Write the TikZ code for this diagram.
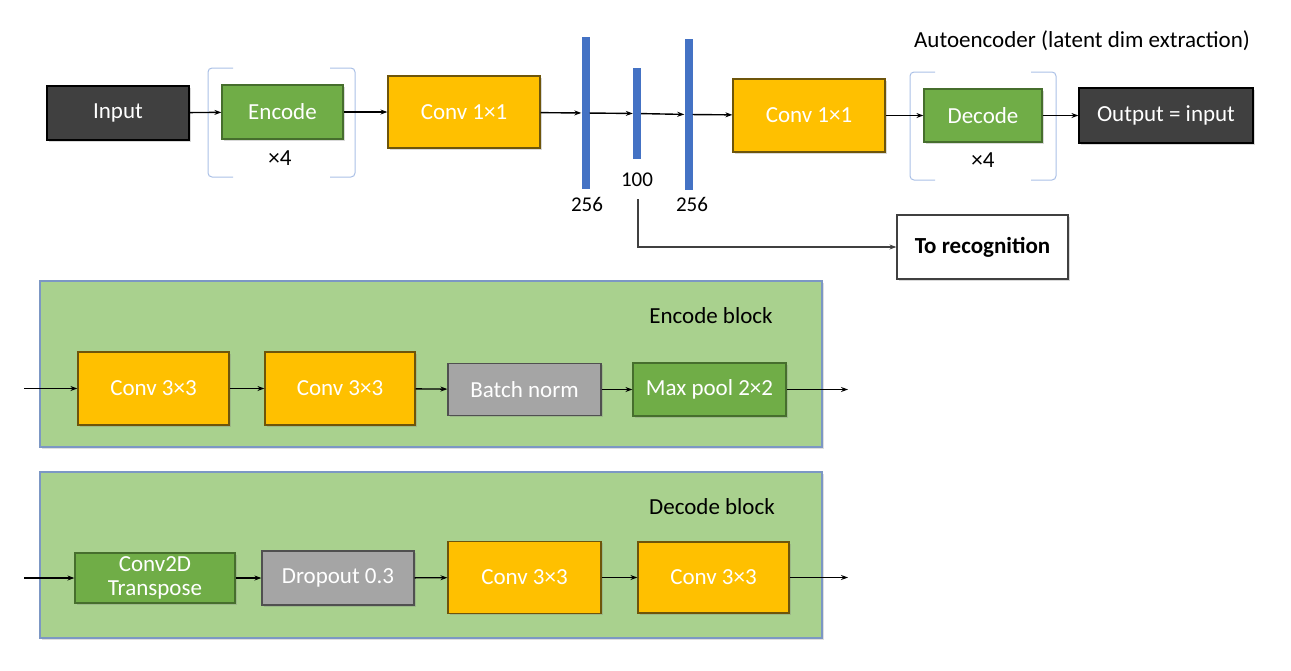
\documentclass[tikz,border=0pt]{standalone}
\usepackage{fontspec}
\setmainfont{Carlito}
\usetikzlibrary{positioning,arrows.meta,shadows}

\definecolor{darkfill}{RGB}{64,64,64}
\definecolor{greenfill}{RGB}{112,173,71}
\definecolor{greenline}{RGB}{70,110,45}
\definecolor{orangefill}{RGB}{255,192,0}
\definecolor{orangeline}{RGB}{110,85,10}
\definecolor{grayfill}{RGB}{165,165,165}
\definecolor{grayline}{RGB}{80,80,80}
\definecolor{barblue}{RGB}{68,114,196}
\definecolor{panelfill}{RGB}{169,209,142}
\definecolor{panelline}{RGB}{124,151,196}
\definecolor{bracketblue}{RGB}{170,192,230}

\begin{document}
\begin{tikzpicture}[x=1pt, y=-1pt,
                font=\fontsize{23}{26}\selectfont,
                box/.style={rectangle, inner sep=0pt, text=white, line width=1.2pt,
                    drop shadow={shadow xshift=1.5pt, shadow yshift=-1.5pt, opacity=0.3}},
                darkbox/.style={box, fill=darkfill, draw=black},
                greenbox/.style={box, fill=greenfill, draw=greenline},
                orangebox/.style={box, fill=orangefill, draw=orangeline},
                graybox/.style={box, fill=grayfill, draw=grayline},
                bar/.style={rectangle, inner sep=0pt, fill=barblue, minimum width=8pt},
                panel/.style={rectangle, fill=panelfill, draw=panelline, line width=1.5pt,
                    minimum width=782pt, minimum height=166pt,
                    drop shadow={shadow xshift=1.5pt, shadow yshift=-1.5pt, opacity=0.25}},
                bracket/.style={draw=bracketblue, line width=1pt, rounded corners=4pt},
                dim/.style={font=\fontsize{21}{24}\selectfont},
                arr/.style={-{Stealth[length=7pt, width=5pt]}, line width=1.4pt}]
                \useasboundingbox (0,0) rectangle (1291,670);

                \node[panel] (encpanel) at (431,364) {};
                \node[panel] (decpanel) at (431,555) {};
                \node (enctitle) at (711,316) {Encode block};
                \node (dectitle) at (712,507) {Decode block};

                \draw[bracket] (233,68) -- (208,68) -- (208,177) -- (233,177);
                \draw[bracket] (330,68) -- (355,68) -- (355,177) -- (330,177);
                \draw[bracket] (935,72) -- (910,72) -- (910,180) -- (935,180);
                \draw[bracket] (1031,72) -- (1056,72) -- (1056,180) -- (1031,180);

                \node[darkbox, minimum width=142pt, minimum height=54pt] (input) at (118,113) {Input};
                \node[greenbox, minimum width=121pt, minimum height=54pt] (encode) at (282.5,112) {Encode};
                \node (repenc) at (280,158) {×4};
                \node[orangebox, minimum width=152pt, minimum height=72pt] (convin) at (464,112) {Conv 1×1};
                \node[bar, minimum height=152pt] (bara) at (585.5,113) {};
                \node[bar, minimum height=91pt] (barb) at (637,113.5) {};
                \node[bar, minimum height=151pt] (barc) at (688.5,114.5) {};
                \node[dim] (dima) at (587,204) {256};
                \node[dim] (dimb) at (637,180) {100};
                \node[dim] (dimc) at (692,204) {256};
                \node[orangebox, minimum width=152pt, minimum height=73pt] (convout) at (809,115.5) {Conv 1×1};
                \node[greenbox, minimum width=118pt, minimum height=53pt] (decode) at (983,115.5) {Decode};
                \node (repdec) at (983,160) {×4};
                \node[darkbox, minimum width=174pt, minimum height=55pt] (output) at (1166,115.5) {Output = input};
                \node (autotitle) at (1082,41) {Autoencoder (latent dim extraction)};
                \node[rectangle, draw=black!75, fill=white, line width=1.2pt, minimum width=171pt, minimum height=64pt,
                    drop shadow={shadow xshift=1.5pt, shadow yshift=-1.5pt, opacity=0.3}] (recog) at (982.5,247)
                    {\bfseries To recognition};
                \coordinate (tap) at (638,199);

                \node[orangebox, minimum width=151pt, minimum height=73pt] (enca) at (153.5,388.5) {Conv 3×3};
                \node[orangebox, minimum width=150pt, minimum height=73pt] (encb) at (340,388.5) {Conv 3×3};
                \node[graybox, minimum width=153pt, minimum height=52pt] (encc) at (524.5,389.5) {Batch norm};
                \node[greenbox, minimum width=153pt, minimum height=53pt] (encd) at (709.5,389.5) {Max pool 2×2};
                \coordinate (encin) at (24,388.5);
                \coordinate (encout) at (848,389.5);

                \node[greenbox, minimum width=160pt, minimum height=50pt, align=center,
                    font=\fontsize{23}{24}\selectfont] (deca) at (155,578) {Conv2D\\Transpose};
                \node[graybox, minimum width=152pt, minimum height=54pt] (decb) at (338,578) {Dropout 0.3};
                \node[orangebox, minimum width=153pt, minimum height=72pt] (decc) at (524.5,577.5) {Conv 3×3};
                \node[orangebox, minimum width=151pt, minimum height=71pt] (decd) at (713.5,577.5) {Conv 3×3};
                \coordinate (decin) at (24,578);
                \coordinate (decout) at (848,577.5);

                \path[arr]
                    (input) edge (encode)
                    (encode) edge (convin)
                    (convin) edge (bara)
                    (bara) edge (barb)
                    (barb) edge (barc)
                    (barc) edge (convout)
                    (convout) edge (decode)
                    (decode) edge (output)
                    (encin) edge (enca)
                    (enca) edge (encb)
                    (encb) edge (encc)
                    (encc) edge (encd)
                    (encd) edge (encout)
                    (decin) edge (deca)
                    (deca) edge (decb)
                    (decb) edge (decc)
                    (decc) edge (decd)
                    (decd) edge (decout)
                    ;
                \draw[arr, black!75] (tap) |- (recog);
            \end{tikzpicture}
\end{document}
